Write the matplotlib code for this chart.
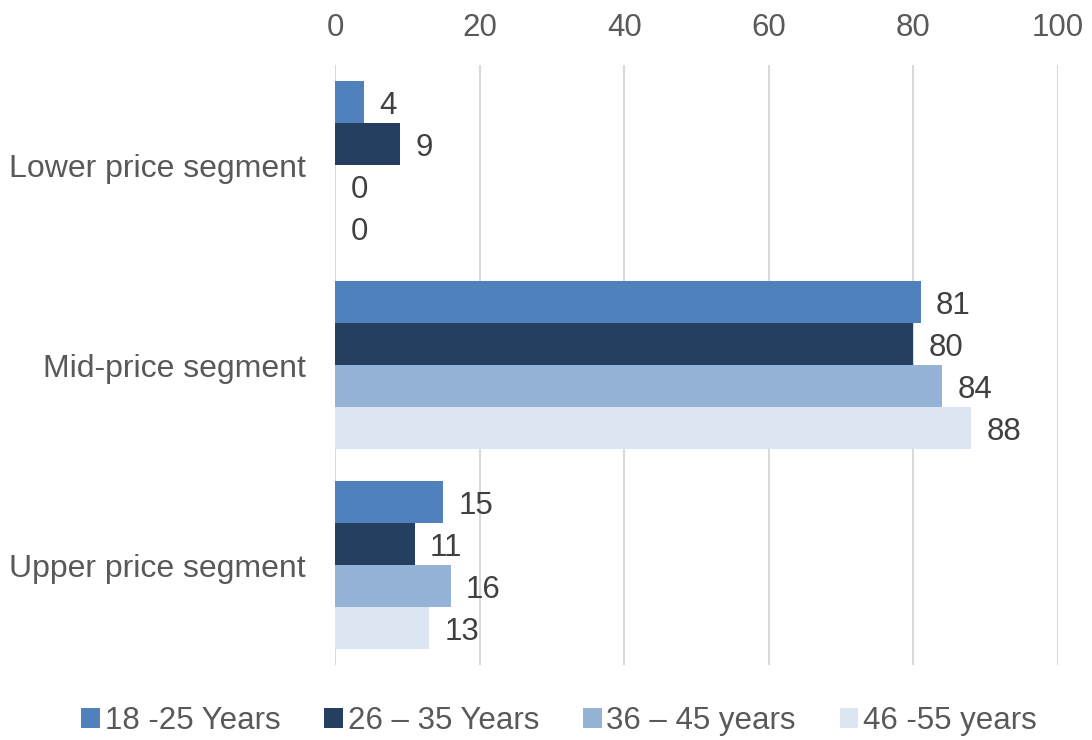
import matplotlib.pyplot as plt
from matplotlib.patches import Patch
import numpy as np

plt.rcParams['font.family'] = ['Liberation Sans', 'DejaVu Sans']

categories = ["Lower price segment", "Mid-price segment", "Upper price segment"]
series_names = ["18 -25 Years", "26 \u2013 35 Years", "36 \u2013 45 years", "46 -55 years"]
age_18_25 = [4, 81, 15]
age_26_35 = [9, 80, 11]
age_36_45 = [0, 84, 16]
age_46_55 = [0, 88, 13]
x_ticks = [0, 20, 40, 60, 80, 100]

series = [age_18_25, age_26_35, age_36_45, age_46_55]
colors = ["#4F81BD", "#243F60", "#95B3D7", "#DCE6F2"]

fig = plt.figure(figsize=(10.92, 7.40), dpi=100)
ax = fig.add_axes([335 / 1092, 1 - 665 / 740, (1058 - 335) / 1092, 600 / 740])

bar_h = 0.21
y = np.arange(len(categories))
for i, (vals, col) in enumerate(zip(series, colors)):
    pos = y - 1.5 * bar_h + i * bar_h
    ax.barh(pos, vals, height=bar_h, color=col, zorder=3)
    for p, v in zip(pos, vals):
        ax.annotate(str(v), xy=(v, p), xytext=(11, 0), textcoords="offset points",
                    ha="left", va="center_baseline", fontsize=22.5, color="#404040")

ax.set_xlim(0, 100)
ax.set_ylim(2.5, -0.5)
ax.set_xticks(x_ticks)
ax.xaxis.tick_top()
ax.tick_params(axis="x", length=0, pad=16, labelsize=22.5, labelcolor="#595959")
ax.set_yticks(y)
ax.set_yticklabels(categories)
ax.tick_params(axis="y", length=0, pad=21, labelsize=23, labelcolor="#595959")
ax.grid(axis="x", color="#D9D9D9", linewidth=1.5, zorder=0)
for s in ax.spines.values():
    s.set_visible(False)

handles = [Patch(facecolor=c, edgecolor="none") for c in colors]
fig.legend(handles, series_names, loc="center", bbox_to_anchor=(0.512, 1 - 721 / 740),
           ncol=4, frameon=False, fontsize=22.5, labelcolor="#595959",
           handlelength=0.6, handleheight=0.6, handletextpad=0.15, columnspacing=1.4)

fig.savefig("out.png", dpi=100)
